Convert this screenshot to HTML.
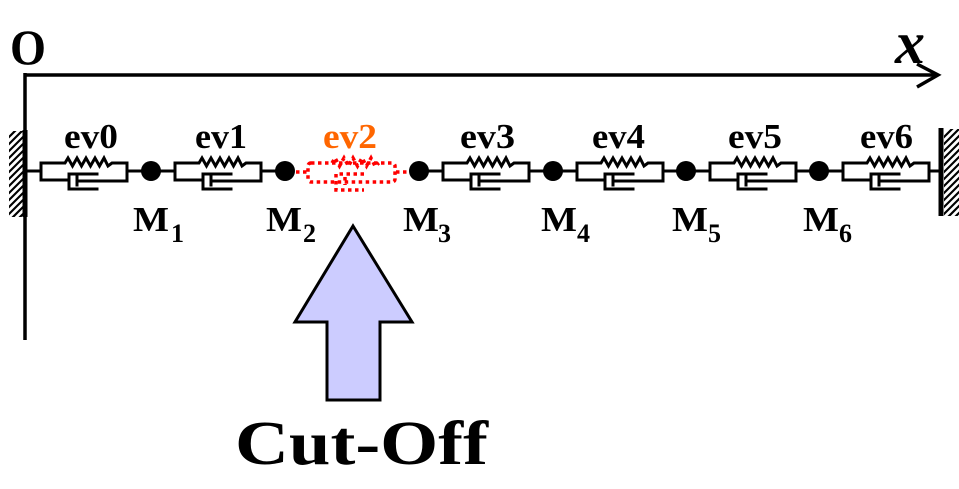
<!DOCTYPE html>
<html>
<head>
<meta charset="utf-8">
<style>
  html, body { margin: 0; padding: 0; background: #ffffff; }
  svg { display: block; }
</style>
</head>
<body>
<svg width="959" height="489" viewBox="0 0 959 489" xmlns="http://www.w3.org/2000/svg" font-family="'Liberation Serif', 'Times New Roman', Times, serif" font-weight="bold">
  <defs>
    <clipPath id="cl"><rect x="9" y="131" width="14" height="86"/></clipPath>
    <clipPath id="cr"><rect x="944" y="129" width="15" height="87"/></clipPath>
    <g id="kv" fill="none" stroke="#000" stroke-width="3" stroke-linejoin="miter" stroke-linecap="square">
      <path d="M0,163 L0,180 M86,163 L86,180"/>
      <path d="M0,163 L24,163 L27,158 L31.5,166 L36,158 L40.5,166 L45,158 L49.5,166 L54,158 L58.5,166 L63,158 L67,166 L71,163 L86,163"/>
      <path d="M0,180 L28,180"/>
      <path d="M56,174 L28,174 L28,189 L56,189"/>
      <path d="M36,177 L36,185 M36,181 L86,181"/>
    </g>
  </defs>

  <!-- axes -->
  <line x1="25" y1="73" x2="25" y2="340" stroke="#000" stroke-width="3.5"/>
  <line x1="23.5" y1="75" x2="937" y2="75" stroke="#000" stroke-width="3.5"/>
  <polyline points="917,64 938,75 917,87" fill="none" stroke="#000" stroke-width="3.5"/>
  <text x="10" y="64" font-size="50" textLength="36" lengthAdjust="spacingAndGlyphs" font-family="'Liberation Serif', 'Times New Roman', serif">O</text>
  <text x="895" y="63" font-size="60" font-style="italic" font-family="'Liberation Serif', 'Times New Roman', serif">x</text>

  <!-- left wall hatch -->
  <g clip-path="url(#cl)" stroke="#000" stroke-width="2.2">
    <line x1="5" y1="141" x2="27" y2="119"/>
    <line x1="5" y1="148" x2="27" y2="126"/>
    <line x1="5" y1="155" x2="27" y2="133"/>
    <line x1="5" y1="162" x2="27" y2="140"/>
    <line x1="5" y1="169" x2="27" y2="147"/>
    <line x1="5" y1="176" x2="27" y2="154"/>
    <line x1="5" y1="183" x2="27" y2="161"/>
    <line x1="5" y1="190" x2="27" y2="168"/>
    <line x1="5" y1="197" x2="27" y2="175"/>
    <line x1="5" y1="204" x2="27" y2="182"/>
    <line x1="5" y1="211" x2="27" y2="189"/>
    <line x1="5" y1="218" x2="27" y2="196"/>
    <line x1="5" y1="225" x2="27" y2="203"/>
    <line x1="5" y1="232" x2="27" y2="210"/>
  </g>
  <line x1="25" y1="130" x2="25" y2="217" stroke="#000" stroke-width="5"/>

  <!-- right wall hatch -->
  <g clip-path="url(#cr)" stroke="#000" stroke-width="2.2">
    <line x1="940" y1="141" x2="963" y2="118"/>
    <line x1="940" y1="148" x2="963" y2="125"/>
    <line x1="940" y1="155" x2="963" y2="132"/>
    <line x1="940" y1="162" x2="963" y2="139"/>
    <line x1="940" y1="169" x2="963" y2="146"/>
    <line x1="940" y1="176" x2="963" y2="153"/>
    <line x1="940" y1="183" x2="963" y2="160"/>
    <line x1="940" y1="190" x2="963" y2="167"/>
    <line x1="940" y1="197" x2="963" y2="174"/>
    <line x1="940" y1="204" x2="963" y2="181"/>
    <line x1="940" y1="211" x2="963" y2="188"/>
    <line x1="940" y1="218" x2="963" y2="195"/>
    <line x1="940" y1="225" x2="963" y2="202"/>
    <line x1="940" y1="232" x2="963" y2="209"/>
  </g>
  <line x1="941" y1="128" x2="941" y2="216" stroke="#000" stroke-width="5"/>

  <!-- connecting lines -->
  <g stroke="#000" stroke-width="3">
    <line x1="27" y1="171" x2="41" y2="171"/>
    <line x1="127" y1="171" x2="175" y2="171"/>
    <line x1="261" y1="171" x2="285" y2="171"/>
    <line x1="419" y1="171" x2="443" y2="171"/>
    <line x1="529" y1="171" x2="577" y2="171"/>
    <line x1="663" y1="171" x2="710" y2="171"/>
    <line x1="796" y1="171" x2="843" y2="171"/>
    <line x1="929" y1="171" x2="940" y2="171"/>
  </g>

  <!-- elements -->
  <use href="#kv" x="41" y="0"/>
  <use href="#kv" x="175" y="0"/>
  <use href="#kv" x="443" y="0"/>
  <use href="#kv" x="577" y="0"/>
  <use href="#kv" x="710" y="0"/>
  <use href="#kv" x="843" y="0"/>

  <!-- dotted red ev2 -->
  <g fill="none" stroke="#ff0000" stroke-width="3.5" stroke-dasharray="3.5 3.5">
    <line x1="296" y1="172" x2="308" y2="172"/>
    <line x1="396" y1="172" x2="409" y2="172"/>
    <rect x="308" y="163" width="87" height="19" rx="3"/>
    <path d="M332,163 L335,158 L339.5,166 L344,158 L348.5,166 L353,158 L357.5,166 L362,158 L366.5,166 L371,158 L375,166 L379,163"/>
    <path d="M364,174 L336,174 L336,190 L364,190"/>
    <path d="M345,177 L345,185"/>
  </g>

  <!-- masses -->
  <g fill="#000">
    <circle cx="151" cy="171" r="10"/>
    <circle cx="285" cy="171" r="10"/>
    <circle cx="419" cy="171" r="10"/>
    <circle cx="553" cy="171" r="10"/>
    <circle cx="686" cy="171" r="10"/>
    <circle cx="819" cy="171" r="10"/>
  </g>

  <!-- ev labels -->
  <g font-size="35">
    <text x="64" y="148" textLength="54" lengthAdjust="spacingAndGlyphs">ev0</text>
    <text x="195" y="148" textLength="52" lengthAdjust="spacingAndGlyphs">ev1</text>
    <text x="323" y="148" textLength="54" lengthAdjust="spacingAndGlyphs" fill="#ff6600">ev2</text>
    <text x="460" y="148" textLength="55" lengthAdjust="spacingAndGlyphs">ev3</text>
    <text x="592" y="148" textLength="53" lengthAdjust="spacingAndGlyphs">ev4</text>
    <text x="728" y="148" textLength="54" lengthAdjust="spacingAndGlyphs">ev5</text>
    <text x="860" y="148" textLength="53" lengthAdjust="spacingAndGlyphs">ev6</text>
  </g>

  <!-- M labels -->
  <g>
    <text x="133" y="231" font-size="35" textLength="36" lengthAdjust="spacingAndGlyphs">M</text>
    <text x="171" y="242" font-size="26">1</text>
    <text x="266" y="231" font-size="35" textLength="36" lengthAdjust="spacingAndGlyphs">M</text>
    <text x="303" y="242" font-size="26">2</text>
    <text x="403" y="231" font-size="35" textLength="36" lengthAdjust="spacingAndGlyphs">M</text>
    <text x="438" y="242" font-size="26">3</text>
    <text x="541" y="231" font-size="35" textLength="36" lengthAdjust="spacingAndGlyphs">M</text>
    <text x="577" y="242" font-size="26">4</text>
    <text x="672" y="231" font-size="35" textLength="36" lengthAdjust="spacingAndGlyphs">M</text>
    <text x="708" y="242" font-size="26">5</text>
    <text x="803" y="231" font-size="35" textLength="36" lengthAdjust="spacingAndGlyphs">M</text>
    <text x="839" y="242" font-size="26">6</text>
  </g>

  <!-- cut-off arrow -->
  <polygon points="353,226 412,322 380,322 380,400 327,400 327,322 295,322" fill="#ccccff" stroke="#000" stroke-width="3" stroke-linejoin="miter"/>
  <text x="235" y="464" font-size="62" textLength="253" lengthAdjust="spacingAndGlyphs">Cut-Off</text>
</svg>
</body>
</html>
